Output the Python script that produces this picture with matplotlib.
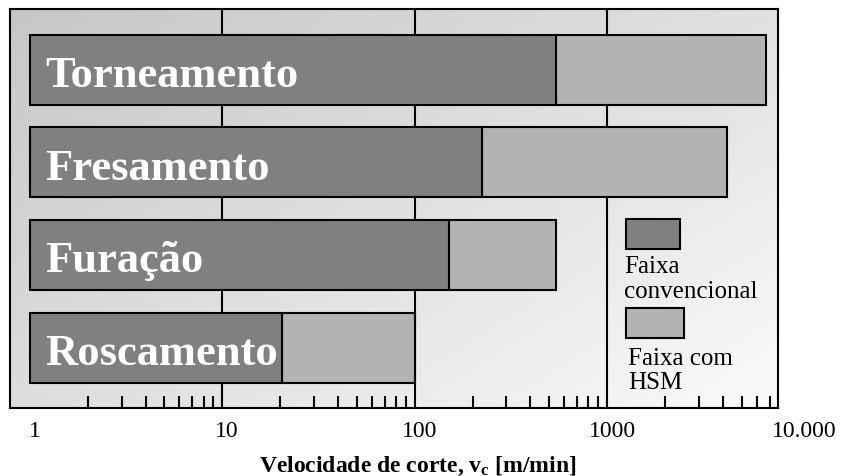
import matplotlib
matplotlib.use("Agg")
import matplotlib.pyplot as plt
import matplotlib.transforms as mtransforms
from matplotlib.patches import Rectangle
import numpy as np

plt.rcParams['font.family'] = ['Liberation Serif', 'DejaVu Serif']
plt.rcParams['mathtext.fontset'] = 'custom'
plt.rcParams['mathtext.rm'] = 'Liberation Serif'
plt.rcParams['mathtext.bf'] = 'Liberation Serif:bold'
plt.rcParams['mathtext.it'] = 'Liberation Serif:italic'

# ---- data ----
processes = ["Torneamento", "Fresamento", "Furação", "Roscamento"]
range_start = [1, 1, 1, 1]
conv_end = [540, 225, 150, 20.5]
hsm_end = [6700, 4200, 540, 100]
grid_values = [10, 100, 1000]
tick_values = [1, 10, 100, 1000, 10000]
tick_labels = ["1", "10", "100", "1000", "10.000"]
legend_labels = [["Faixa", "convencional"], ["Faixa com", "HSM"]]
xlabel = r"Velocidade de corte, $\mathbf{v_c}$ [m/min]"

conv_color = "#808080"
hsm_color = "#b3b3b3"

W, H, DPI = 847, 477, 100
fig = plt.figure(figsize=(W / DPI, H / DPI), dpi=DPI)
ax = fig.add_axes([10 / W, (H - 409) / H, 768 / W, 399 / H])

ax.set_xscale("log")

# background gradient (diagonal, darker top-left)
nx, ny = 200, 100
gx = np.linspace(0, 1, nx)[None, :]
gy = np.linspace(0, 1, ny)[:, None]  # 0 = bottom
tl, tr, bl, br = 198, 224, 220, 250
grad = (tl * (1 - gx) * gy + tr * gx * gy + bl * (1 - gx) * (1 - gy) + br * gx * (1 - gy)) / 255.0
ax.imshow(grad, extent=[0, 1, 0, 1], transform=ax.transAxes, aspect="auto",
          cmap="gray", vmin=0, vmax=1, origin="lower", zorder=0, interpolation="bilinear")

ypos = np.arange(len(processes))[::-1]
bar_h = 0.756

for gv in grid_values:
    ax.axvline(gv, color="black", lw=1.5, zorder=1)

start = np.array(range_start, dtype=float)
ce = np.array(conv_end, dtype=float)
he = np.array(hsm_end, dtype=float)
ax.barh(ypos, he - ce, left=ce, height=bar_h, color=hsm_color,
        edgecolor="black", linewidth=1.5, zorder=2)
ax.barh(ypos, ce - start, left=start, height=bar_h, color=conv_color,
        edgecolor="black", linewidth=1.5, zorder=3)

# process names inside bars
blend = mtransforms.blended_transform_factory(ax.transAxes, ax.transData)
off = mtransforms.ScaledTranslation(0, -16.5 / DPI, fig.dpi_scale_trans)
for name, y in zip(processes, ypos):
    ax.text(35 / 768, y, name, transform=blend + off, color="white",
            fontsize=32, fontweight="bold", va="baseline", ha="left", zorder=5)

ax.set_xlim(0.79, 7730)
ax.set_ylim(-0.653, 3.655)

# ticks
ax.set_yticks([])
ax.set_xticks([], minor=False)
minor = [m * 10 ** d for d in range(0, 4) for m in range(2, 10) if m * 10 ** d < 7730]
ax.set_xticks(minor, minor=True)
ax.set_xticklabels([], minor=True)
ax.tick_params(axis="x", which="minor", direction="in", length=9, width=1.5,
               color="black", bottom=True, top=False)
ax.tick_params(axis="x", which="major", length=0)

for sp in ax.spines.values():
    sp.set_linewidth(1.5)
    sp.set_color("black")
    sp.set_zorder(6)

# tick labels (x in data, y below axes)
blend_x = mtransforms.blended_transform_factory(ax.transData, ax.transAxes)
toff = mtransforms.ScaledTranslation(5 / DPI, -28 / DPI, fig.dpi_scale_trans)
for tv, tl_ in zip(tick_values, tick_labels):
    ax.text(tv, 0, tl_, transform=blend_x + toff, ha="center", va="baseline",
            fontsize=17, clip_on=False)

fig.text(418 / W, (H - 472) / H, xlabel, ha="center", va="baseline",
         fontsize=17, fontweight="bold")

# legend
ax.add_patch(Rectangle((615.7 / 768, (409 - 250) / 399), 54.3 / 768, 30 / 399,
                       transform=ax.transAxes, facecolor=conv_color,
                       edgecolor="black", linewidth=1.5, zorder=5))
ax.add_patch(Rectangle((616 / 768, (409 - 339) / 399), 58 / 768, 30 / 399,
                       transform=ax.transAxes, facecolor=hsm_color,
                       edgecolor="black", linewidth=1.5, zorder=5))
leg_pos = [[(614 / 768, (409 - 273) / 399), (614 / 768, (409 - 298) / 399)],
           [(618 / 768, (409 - 365) / 399), (618 / 768, (409 - 389) / 399)]]
for lines, poss in zip(legend_labels, leg_pos):
    for txt, (px, py) in zip(lines, poss):
        ax.text(px, py, txt, transform=ax.transAxes, fontsize=18,
                ha="left", va="baseline", zorder=6)

fig.savefig("out.png", dpi=DPI, facecolor="white")
